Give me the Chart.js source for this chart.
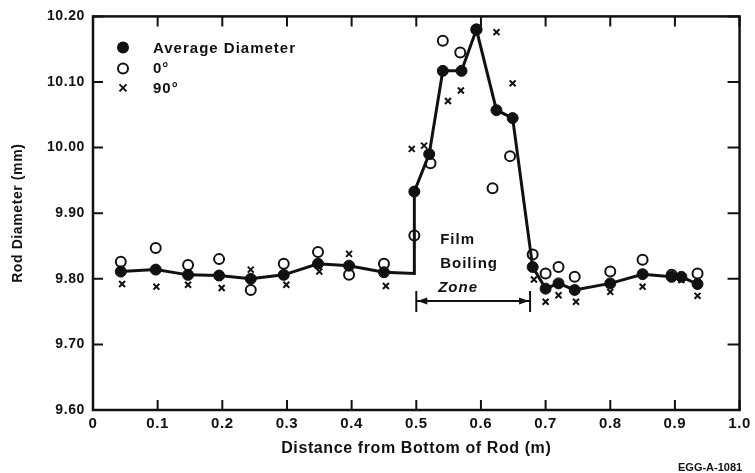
<!DOCTYPE html>
<html>
<head>
<meta charset="utf-8">
<script src="https://cdn.jsdelivr.net/npm/chart.js@4.4.1/dist/chart.umd.min.js"></script>
<style>
html, body { margin: 0; padding: 0; background: #fff; }
#wrap { width: 755px; height: 473px; }
</style>
</head>
<body>
<div id="wrap"><canvas id="rodChart" width="755" height="473"></canvas></div>
<script>
// distance from bottom of rod (m) and rod diameter (mm)
const avgX = [0.043, 0.097, 0.147, 0.195, 0.244, 0.295, 0.348, 0.396, 0.450, 0.497, 0.497, 0.520, 0.541, 0.570, 0.593, 0.624, 0.649, 0.680, 0.700, 0.720, 0.745, 0.800, 0.850, 0.895, 0.910, 0.935];
const avgY = [9.811, 9.814, 9.806, 9.805, 9.800, 9.806, 9.823, 9.820, 9.810, 9.808, 9.933, 9.990, 10.117, 10.117, 10.180, 10.057, 10.045, 9.818, 9.785, 9.793, 9.783, 9.793, 9.807, 9.803, 9.803, 9.792];

const deg0X = [0.043, 0.097, 0.147, 0.195, 0.244, 0.295, 0.348, 0.396, 0.450, 0.497, 0.522, 0.541, 0.568, 0.593, 0.618, 0.645, 0.680, 0.700, 0.720, 0.745, 0.800, 0.850, 0.895, 0.935];
const deg0Y = [9.826, 9.847, 9.821, 9.830, 9.783, 9.823, 9.841, 9.806, 9.823, 9.866, 9.976, 10.163, 10.145, 10.180, 9.938, 9.987, 9.837, 9.808, 9.818, 9.803, 9.811, 9.829, 9.806, 9.808];

const deg90X = [0.045, 0.098, 0.147, 0.199, 0.244, 0.299, 0.350, 0.396, 0.453, 0.493, 0.512, 0.549, 0.569, 0.593, 0.624, 0.649, 0.682, 0.700, 0.720, 0.747, 0.800, 0.850, 0.910, 0.935];
const deg90Y = [9.792, 9.788, 9.791, 9.786, 9.814, 9.791, 9.811, 9.838, 9.789, 9.998, 10.003, 10.071, 10.087, 10.180, 10.176, 10.098, 9.799, 9.765, 9.775, 9.765, 9.780, 9.788, 9.798, 9.774];

const xTickValues = [0, 0.1, 0.2, 0.3, 0.4, 0.5, 0.6, 0.7, 0.8, 0.9, 1.0];
const xTickLabels = ['0', '0.1', '0.2', '0.3', '0.4', '0.5', '0.6', '0.7', '0.8', '0.9', '1.0'];
const yTickValues = [9.6, 9.7, 9.8, 9.9, 10.0, 10.1, 10.2];
const yTickLabels = ['9.60', '9.70', '9.80', '9.90', '10.00', '10.10', '10.20'];

const legendLabels = ['Average Diameter', '0\u00b0', '90\u00b0'];
const zoneLabels = ['Film', 'Boiling', 'Zone'];
const zoneRange = [0.5, 0.676];

const toPoints = (xs, ys) => xs.map((x, i) => ({ x: x, y: ys[i] }));

const FONT = '"Liberation Sans", Arial, sans-serif';

// frame and inward tick marks on all four sides
const framePlugin = {
    id: 'frame',
    beforeDraw(chart) {
        // the scanned lettering is a bit wide, spread it out a little
        chart.ctx.letterSpacing = '0.6px';
    },
    beforeDatasetsDraw(chart) {
        const { ctx, chartArea: a, scales: { x, y } } = chart;
        ctx.save();
        ctx.strokeStyle = '#111';
        ctx.lineWidth = 2.5;
        ctx.strokeRect(a.left, a.top, a.right - a.left, a.bottom - a.top);
        ctx.lineWidth = 2;
        ctx.beginPath();
        xTickValues.forEach(v => {
            const px = x.getPixelForValue(v);
            ctx.moveTo(px, a.bottom); ctx.lineTo(px, a.bottom - 10);
            ctx.moveTo(px, a.top); ctx.lineTo(px, a.top + 10);
        });
        yTickValues.forEach(v => {
            const py = y.getPixelForValue(v);
            ctx.moveTo(a.left, py); ctx.lineTo(a.left + 10, py);
            ctx.moveTo(a.right, py); ctx.lineTo(a.right - 12, py);
        });
        ctx.stroke();
        ctx.restore();
    },
    afterDraw(chart) {
        const { ctx, chartArea: a, scales: { x, y } } = chart;
        ctx.save();

        // legend inside the plot, top left
        const lx = a.left + 30, ly = a.top + 31;
        ctx.fillStyle = '#111';
        ctx.strokeStyle = '#111';
        ctx.beginPath(); ctx.arc(lx, ly, 6, 0, Math.PI * 2); ctx.fill();
        ctx.lineWidth = 2;
        ctx.beginPath(); ctx.arc(lx, ly + 21, 5, 0, Math.PI * 2);
        ctx.fillStyle = '#fff'; ctx.fill(); ctx.stroke();
        ctx.lineWidth = 2;
        ctx.beginPath();
        ctx.moveTo(lx - 3.5, ly + 37); ctx.lineTo(lx + 3.5, ly + 44);
        ctx.moveTo(lx + 3.5, ly + 37); ctx.lineTo(lx - 3.5, ly + 44);
        ctx.stroke();
        ctx.fillStyle = '#111';
        ctx.letterSpacing = '1px';
        ctx.font = 'bold 15px ' + FONT;
        ctx.textBaseline = 'middle';
        ctx.textAlign = 'left';
        ctx.fillText(legendLabels[0], lx + 30, ly + 1);
        ctx.fillText(legendLabels[1], lx + 30, ly + 21);
        ctx.fillText(legendLabels[2], lx + 30, ly + 41);

        // film boiling zone annotation
        ctx.font = 'bold 15px ' + FONT;
        const tx = x.getPixelForValue(0.537);
        ctx.fillText(zoneLabels[0], tx, y.getPixelForValue(9.860));
        ctx.fillText(zoneLabels[1], tx, y.getPixelForValue(9.823));
        ctx.font = 'italic bold 15px ' + FONT;
        ctx.fillText(zoneLabels[2], tx - 2, y.getPixelForValue(9.786));

        const x0 = x.getPixelForValue(zoneRange[0]);
        const x1 = x.getPixelForValue(zoneRange[1]);
        const ay = y.getPixelForValue(9.766);
        ctx.lineWidth = 2;
        ctx.beginPath();
        ctx.moveTo(x0, ay); ctx.lineTo(x1, ay);
        ctx.moveTo(x0, ay - 10); ctx.lineTo(x0, ay + 11);
        ctx.moveTo(x1, ay - 10); ctx.lineTo(x1, ay + 11);
        ctx.stroke();
        ctx.beginPath();
        ctx.moveTo(x0 + 1, ay); ctx.lineTo(x0 + 11, ay - 3.5); ctx.lineTo(x0 + 11, ay + 3.5); ctx.closePath();
        ctx.moveTo(x1 - 1, ay); ctx.lineTo(x1 - 11, ay - 3.5); ctx.lineTo(x1 - 11, ay + 3.5); ctx.closePath();
        ctx.fill();

        // figure id, bottom right
        ctx.letterSpacing = '0px';
        ctx.font = 'bold 11px ' + FONT;
        ctx.textBaseline = 'alphabetic';
        ctx.fillText('EGG-A-1081', 678, 471);
        ctx.restore();
    }
};

const ctx = document.getElementById('rodChart').getContext('2d');
new Chart(ctx, {
    type: 'scatter',
    data: {
        datasets: [{
            label: legendLabels[0],
            data: toPoints(avgX, avgY),
            showLine: true,
            borderColor: '#111',
            backgroundColor: '#111',
            borderWidth: 3,
            pointRadius: c => (c.dataIndex === 9 ? 0 : 5.5),
            pointBorderWidth: 1,
            pointStyle: 'circle'
        }, {
            label: legendLabels[1],
            data: toPoints(deg0X, deg0Y),
            showLine: false,
            borderColor: '#111',
            backgroundColor: '#fff',
            pointRadius: 5,
            pointBorderWidth: 2,
            pointStyle: 'circle'
        }, {
            label: legendLabels[2],
            data: toPoints(deg90X, deg90Y),
            showLine: false,
            borderColor: '#111',
            backgroundColor: '#111',
            pointRadius: 4.2,
            pointBorderWidth: 2,
            pointStyle: 'crossRot'
        }]
    },
    options: {
        responsive: false,
        animation: false,
        events: [],
        layout: { padding: { top: 16, right: 15, left: 0, bottom: 0 } },
        plugins: {
            legend: { display: false },
            tooltip: { enabled: false }
        },
        scales: {
            x: {
                type: 'linear',
                min: 0,
                max: 1,
                afterBuildTicks: s => { s.ticks = xTickValues.map(v => ({ value: v })); },
                afterFit: s => { s.height = 63; },
                grid: { display: false, drawTicks: false },
                border: { display: false },
                ticks: {
                    padding: 5,
                    color: '#111',
                    font: { family: FONT, size: 15, weight: 'bold' },
                    maxRotation: 0,
                    callback: (v, i) => xTickLabels[i]
                },
                title: {
                    display: true,
                    text: 'Distance from Bottom of Rod (m)',
                    color: '#111',
                    font: { family: FONT, size: 16, weight: 'bold' },
                    padding: { top: 0, bottom: 15 }
                }
            },
            y: {
                type: 'linear',
                min: 9.6,
                max: 10.2,
                afterBuildTicks: s => { s.ticks = yTickValues.map(v => ({ value: v })); },
                afterFit: s => { s.width = 93; },
                grid: { display: false, drawTicks: false },
                border: { display: false },
                ticks: {
                    padding: 8,
                    color: '#111',
                    font: { family: FONT, size: 14, weight: 'bold' },
                    callback: (v, i) => yTickLabels[i]
                },
                title: {
                    display: true,
                    text: 'Rod Diameter (mm)',
                    color: '#111',
                    font: { family: FONT, size: 14, weight: 'bold' },
                    padding: { top: 10, bottom: 0 }
                }
            }
        }
    },
    plugins: [framePlugin]
});
</script>
</body>
</html>
